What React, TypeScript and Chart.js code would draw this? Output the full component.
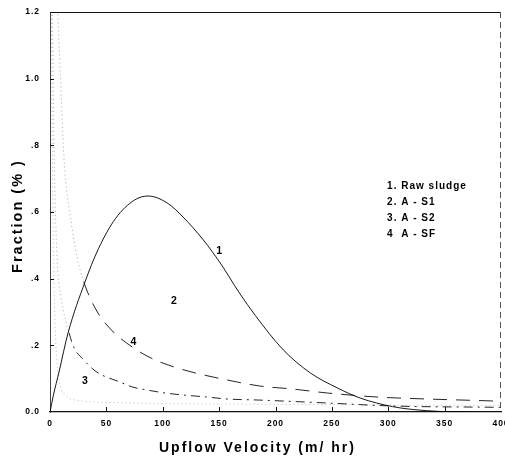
import React, { useEffect, useRef } from 'react';
import { Chart, registerables } from 'chart.js';

Chart.register(...registerables);

// ---- data ----
const rawSludgeX = [0, 3, 8, 16, 31, 43, 58, 75, 87, 104, 118, 136, 151, 168, 182, 207, 231, 255, 275, 304, 334, 364, 372];
const rawSludgeY = [0, 0.05, 0.12, 0.237, 0.39, 0.49, 0.58, 0.636, 0.648, 0.627, 0.585, 0.516, 0.447, 0.357, 0.29, 0.186, 0.117, 0.072, 0.042, 0.016, 0.004, 0.0, 0.0];

const aS1X = [1, 2, 3, 4, 6, 9, 14, 25, 60, 150, 250, 350, 400];
const aS1Y = [1.3, 0.8, 0.5, 0.32, 0.16, 0.08, 0.05, 0.035, 0.028, 0.024, 0.022, 0.02, 0.02];

const aS2X = [2, 3, 4, 6, 10, 17, 21, 30, 39, 46, 62, 73, 86, 102, 118, 139, 157, 184, 246, 304, 400];
const aS2Y = [1.3, 0.95, 0.72, 0.48, 0.34, 0.237, 0.195, 0.156, 0.126, 0.111, 0.09, 0.075, 0.066, 0.057, 0.051, 0.045, 0.039, 0.036, 0.027, 0.018, 0.014];

const aSFX = [5, 7, 9, 12.4, 14, 17, 24, 30, 42, 57, 62, 86, 113, 166, 186, 215, 246, 290, 334, 393, 400];
const aSFY = [1.3, 1.18, 1.03, 0.76, 0.69, 0.61, 0.465, 0.39, 0.3, 0.237, 0.222, 0.168, 0.132, 0.09, 0.078, 0.069, 0.057, 0.045, 0.039, 0.033, 0.032];

const yTickLabels = ['0.0', '.2', '.4', '.6', '.8', '1.0', '1.2'];
const xTickStep = 50;

const curveLabelText = ['1', '2', '3', '4'];
const curveLabelX = [150, 110, 31, 74];
const curveLabelY = [0.483, 0.333, 0.093, 0.21];

const legendLines = ['1. Raw sludge', '2. A - S1', '3. A - S2', '4  A - SF'];
const legendAnchorX = 299;
const legendAnchorY = 0.678;

const xTitle = 'Upflow Velocity (m/ hr)';
const yTitle = 'Fraction (% )';

const FONT = '"Liberation Sans", Arial, sans-serif';

const toPoints = (xs: number[], ys: number[]) => xs.map((x, i) => ({ x, y: ys[i] }));

const FAINT = 'rgba(0,0,0,0.35)';

const framePlugin = {
  id: 'frame',
  beforeDraw(chart: any) {
    const ctx = chart.ctx;
    ctx.save();
    ctx.fillStyle = '#fff';
    ctx.fillRect(0, 0, chart.width, chart.height);
    ctx.restore();
    ctx.letterSpacing = '1px';
  },
  afterDraw(chart: any) {
    const { ctx, chartArea: a } = chart;
    ctx.save();
    ctx.fillStyle = '#000';
    ctx.letterSpacing = '2px';
    ctx.font = `bold 14px ${FONT}`;
    ctx.textAlign = 'center';
    ctx.textBaseline = 'middle';
    ctx.fillText(xTitle, a.left + (a.right - a.left) * 0.46, 448);
    ctx.font = `bold 14.5px ${FONT}`;
    ctx.translate(18, a.top + (a.bottom - a.top) * 0.51);
    ctx.rotate(-Math.PI / 2);
    ctx.fillText(yTitle, 0, 0);
    ctx.restore();
  },
  afterDatasetsDraw(chart: any) {
    const { ctx, chartArea: a, scales } = chart;
    const x = scales.x;
    const y = scales.y;
    ctx.save();
    // top border
    ctx.strokeStyle = '#111';
    ctx.lineWidth = 1.2;
    ctx.beginPath();
    ctx.moveTo(a.left, a.top + 0.5);
    ctx.lineTo(a.right, a.top + 0.5);
    ctx.stroke();
    // right border (faint, broken)
    ctx.strokeStyle = '#555';
    ctx.lineWidth = 1;
    ctx.setLineDash([6, 4]);
    ctx.beginPath();
    ctx.moveTo(a.right - 0.5, a.top);
    ctx.lineTo(a.right - 0.5, a.bottom);
    ctx.stroke();
    ctx.setLineDash([]);
    // inward tick marks
    ctx.strokeStyle = '#111';
    x.ticks.forEach((t: any) => {
      if (t.value <= x.min || t.value >= x.max) return;
      const px = Math.round(x.getPixelForValue(t.value)) + 0.5;
      ctx.beginPath();
      ctx.moveTo(px, a.bottom);
      ctx.lineTo(px, a.bottom - 5);
      ctx.stroke();
    });
    y.ticks.forEach((t: any) => {
      if (t.value <= y.min + 1e-9) return;
      const py = Math.round(y.getPixelForValue(t.value)) + 0.5;
      ctx.beginPath();
      ctx.moveTo(a.left, py);
      ctx.lineTo(a.left + 4, py);
      ctx.stroke();
    });
    // curve labels
    ctx.fillStyle = '#000';
    ctx.letterSpacing = '0px';
    ctx.font = `bold 10.5px ${FONT}`;
    ctx.textAlign = 'center';
    ctx.textBaseline = 'middle';
    curveLabelText.forEach((txt, i) => {
      ctx.fillText(txt, x.getPixelForValue(curveLabelX[i]), y.getPixelForValue(curveLabelY[i]));
    });
    // legend text block
    ctx.letterSpacing = '1px';
    ctx.font = `bold 10px ${FONT}`;
    ctx.textAlign = 'left';
    const lx = x.getPixelForValue(legendAnchorX);
    const ly = y.getPixelForValue(legendAnchorY);
    legendLines.forEach((txt, i) => {
      ctx.fillText(txt, lx, ly + i * 16);
    });
    ctx.restore();
  },
};

const faintAbove = (limit: number, dash: number[], color: string) => ({
  borderColor: (c: any) => (Math.max(c.p0.parsed.y, c.p1.parsed.y) > limit ? FAINT : color),
  borderDash: (c: any) => (Math.max(c.p0.parsed.y, c.p1.parsed.y) > limit ? [1, 3] : dash),
});

export default function App() {
  const ref = useRef<HTMLCanvasElement>(null);
  useEffect(() => {
    const canvas = ref.current;
    if (!canvas) return;
    const lineBase = {
      pointRadius: 0,
      fill: false,
      borderWidth: 1,
      cubicInterpolationMode: 'monotone' as const,
    };
    const dark = 'rgba(0,0,0,0.85)';
    const chart = new Chart(canvas, {
      type: 'line',
      data: {
        datasets: [
          { ...lineBase, label: 'Raw sludge', data: toPoints(rawSludgeX, rawSludgeY), borderColor: 'rgba(0,0,0,0.9)' },
          { ...lineBase, label: 'A - S1', data: toPoints(aS1X, aS1Y), borderColor: 'rgba(0,0,0,0.28)', borderDash: [1, 3] },
          { ...lineBase, label: 'A - S2', data: toPoints(aS2X, aS2Y), borderColor: dark, borderDash: [9, 5, 2, 5], segment: faintAbove(0.25, [9, 5, 2, 5], dark) },
          { ...lineBase, label: 'A - SF', data: toPoints(aSFX, aSFY), borderColor: dark, borderDash: [14, 9], segment: faintAbove(0.42, [14, 9], dark) },
        ],
      },
      options: {
        animation: false,
        responsive: true,
        maintainAspectRatio: false,
        layout: { padding: { left: 0, right: 4, top: 12, bottom: 0 } },
        plugins: { legend: { display: false }, tooltip: { enabled: false } },
        scales: {
          x: {
            type: 'linear',
            min: 0,
            max: 400,
            grid: { display: false, drawTicks: false },
            border: { display: true, color: '#111', width: 1.2 },
            ticks: {
              stepSize: xTickStep,
              autoSkip: false,
              maxRotation: 0,
              padding: 7,
              color: '#000',
              font: { family: FONT, size: 8.5, weight: 'bold' },
            },
            afterFit: (s: any) => {
              s.height = 48;
              s.paddingLeft = 0;
              s.paddingRight = 0;
            },
          },
          y: {
            type: 'linear',
            min: 0,
            max: 1.2,
            grid: { display: false, drawTicks: false },
            border: { display: true, color: '#444', width: 1, dash: [3, 2] },
            ticks: {
              stepSize: 0.2,
              autoSkip: false,
              padding: 10,
              color: '#000',
              font: { family: FONT, size: 8.5, weight: 'bold' },
              callback: (_v: any, i: number) => yTickLabels[i],
            },
            afterFit: (s: any) => {
              s.width = 50;
              s.paddingTop = 0;
              s.paddingBottom = 0;
            },
          },
        },
      },
      plugins: [framePlugin],
    } as any);
    return () => chart.destroy();
  }, []);
  return (
    <div style={{ position: 'fixed', left: 0, top: 0, width: 505, height: 460, background: '#fff' }}>
      <canvas ref={ref} />
    </div>
  );
}
